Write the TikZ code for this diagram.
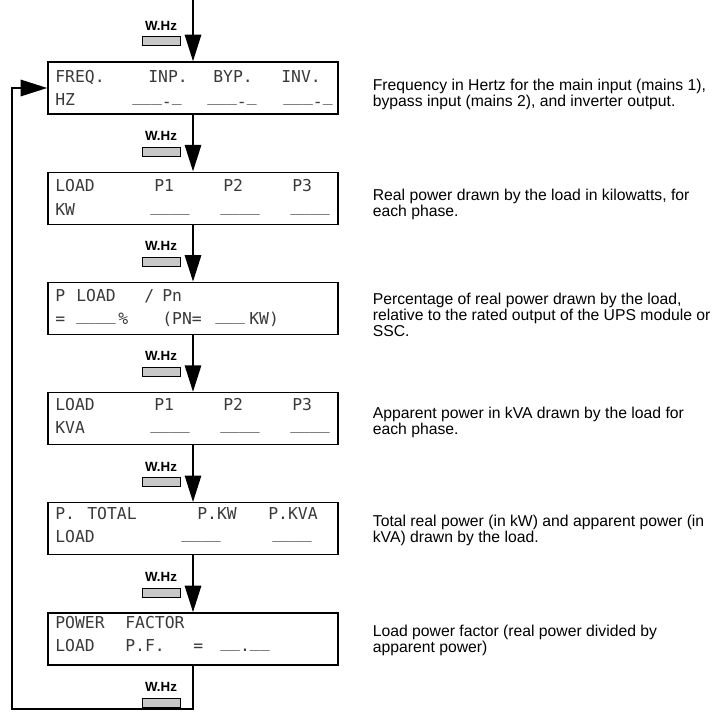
\documentclass[tikz,border=0pt]{standalone}
\usepackage{fontspec}
\setmainfont{Liberation Sans}
\newfontfamily\lcdfont{DejaVu Sans Mono}
\usetikzlibrary{arrows.meta,positioning}
\definecolor{key-grey}{HTML}{C8C8C8}
\definecolor{lcd-ink}{HTML}{3A3A3A}
% raised blanks of the display
\newcommand\blanks[1]{\raisebox{3pt}{#1}}
\newcommand\hzval{\blanks{\_\_\_}\raisebox{-1pt}{-}\blanks{\_}}

\tikzset{
  lcdbox/.style={draw, line width=0.9pt, minimum width=217.5pt, minimum height=39pt, inner sep=0pt},
  lcd/.style={anchor=base west, inner sep=0pt, text=lcd-ink,
    font=\lcdfont\fontsize{12.3}{14}\selectfont},
  key/.style={draw, fill=key-grey, line width=0.6pt, minimum width=28.5pt, minimum height=6.75pt, inner sep=0pt},
  keylabel/.style={inner sep=0pt, font=\bfseries\fontsize{10}{12}\selectfont},
  flow/.style={line width=2.2pt, -{Triangle[length=20pt,width=12pt]}},
  note/.style={anchor=west, align=left, inner sep=0pt, font=\fontsize{11.8}{12}\selectfont}
}

\begin{document}
\begin{tikzpicture}[x=0.75pt, y=-0.75pt, node distance=42.75pt]

    \useasboundingbox (0,0) rectangle (721,713);

    % Display screens
    \node[lcdbox] (d1) at (193,88) {};
    \node[lcdbox, below=of d1] (d2) {};
    \node[lcdbox, below=of d2] (d3) {};
    \node[lcdbox, below=of d3] (d4) {};
    \node[lcdbox, below=of d4] (d5) {};
    \node[lcdbox, below=of d5] (d6) {};

    % Screen 1
    \foreach \x/\t in {55/FREQ., 148/INP., 213/BYP., 281/INV.}
        \node[lcd] (a1-\x) at (\x,83) {\t};
    \foreach \x/\t in {55/HZ, 132/\hzval, 207/\hzval, 283/\hzval}
        \node[lcd] (b1-\x) at (\x,106) {\t};

    % Screen 2
    \foreach \x/\t in {55/LOAD, 154/P1, 223/P2, 292/P3}
        \node[lcd] (a2-\x) at (\x,192) {\t};
    \foreach \x/\t in {55/KW, 150/\blanks{\_\_\_\_}, 220/\blanks{\_\_\_\_}, 290/\blanks{\_\_\_\_}}
        \node[lcd] (b2-\x) at (\x,215) {\t};

    % Screen 3
    \foreach \x/\t in {55/P, 76/LOAD, 144/\slash, 162/Pn}
        \node[lcd] (a3-\x) at (\x,301) {\t};
    \foreach \x/\t in {55/=, 76/\blanks{\_\_\_\_}, 118/\%, 162/(PN=, 215/\blanks{\_\_\_}, 249/KW)}
        \node[lcd] (b3-\x) at (\x,324) {\t};

    % Screen 4
    \foreach \x/\t in {55/LOAD, 154/P1, 223/P2, 292/P3}
        \node[lcd] (a4-\x) at (\x,410) {\t};
    \foreach \x/\t in {55/KVA, 150/\blanks{\_\_\_\_}, 220/\blanks{\_\_\_\_}, 290/\blanks{\_\_\_\_}}
        \node[lcd] (b4-\x) at (\x,433) {\t};

    % Screen 5
    \foreach \x/\t in {55/P., 87/TOTAL, 197/P.KW, 268/P.KVA}
        \node[lcd] (a5-\x) at (\x,519) {\t};
    \foreach \x/\t in {55/LOAD, 181/\blanks{\_\_\_\_}, 272/\blanks{\_\_\_\_}}
        \node[lcd] (b5-\x) at (\x,542) {\t};

    % Screen 6
    \foreach \x/\t in {55/POWER, 125/FACTOR}
        \node[lcd] (a6-\x) at (\x,628) {\t};
    \foreach \x/\t in {55/LOAD, 125/P.F., 193/=, 220/\blanks{\_\_}.\blanks{\_\_}}
        \node[lcd] (b6-\x) at (\x,651) {\t};

    % W.Hz keys
    \foreach \i in {1,...,6}
        \node[key] (k\i) at ([xshift=-24pt,yshift=15pt]d\i.north) {};
    \node[key] (k7) at ([xshift=-24pt,yshift=-27.75pt]d6.south) {};
    \foreach \i in {1,...,7}
        \node[keylabel, above=4.5pt of k\i] (w\i) {W.Hz};

    % Flow
    \coordinate (start) at (193,0);
    \coordinate (back) at (12,709);
    \draw[flow] (start) -- (d1.north);
    \foreach \i/\j in {1/2, 2/3, 3/4, 4/5, 5/6}
        \draw[flow] (d\i.south) -- (d\j.north);
    \draw[flow] (d6.south) |- (back) |- (d1.west);

    % Notes
    \node[note] (n1) at ([xshift=25.5pt,yshift=-5pt]d1.east) {Frequency in Hertz for the main input (mains 1),\\bypass input (mains 2), and inverter output.};
    \node[note] (n2) at ([xshift=25.5pt,yshift=-5pt]d2.east) {Real power drawn by the load in kilowatts, for\\each phase.};
    \node[note] (n3) at ([xshift=25.5pt,yshift=-4.5pt]d3.east) {Percentage of real power drawn by the load,\\relative to the rated output of the UPS module or\\SSC.};
    \node[note] (n4) at ([xshift=25.5pt,yshift=-3pt]d4.east) {Apparent power in kVA drawn by the load for\\each phase.};
    \node[note] (n5) at ([xshift=25.5pt,yshift=-1.5pt]d5.east) {Total real power (in kW) and apparent power (in\\kVA) drawn by the load.};
    \node[note] (n6) at ([xshift=25.5pt,yshift=-0.75pt]d6.east) {Load power factor (real power divided by\\apparent power)};

\end{tikzpicture}
\end{document}
